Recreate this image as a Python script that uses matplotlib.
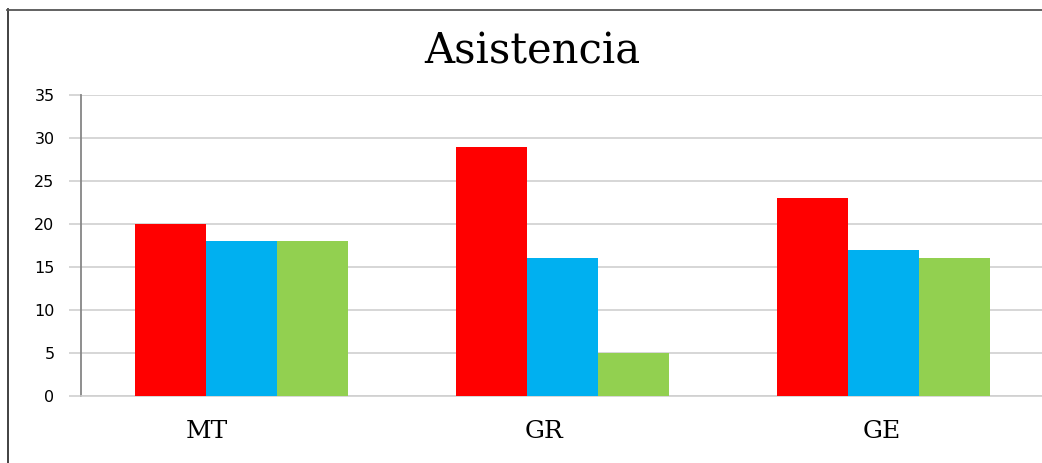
import matplotlib
matplotlib.use("Agg")
import matplotlib.pyplot as plt
import matplotlib.transforms as mtransforms
from matplotlib.lines import Line2D
import numpy as np

categories = ["MT", "GR", "GE"]
serie_rojo = [20, 29, 23]
serie_azul = [18, 16, 17]
serie_verde = [18, 5, 16]
y_ticks = [0, 5, 10, 15, 20, 25, 30, 35]

colores = ["#FF0000", "#00B0F0", "#92D050"]

W, H = 1042, 463
fig = plt.figure(figsize=(W / 100, H / 100), dpi=100)
ax = fig.add_axes([81 / W, 1 - 396 / H, (1044 - 81) / W, (396 - 95) / H])

x = np.arange(len(categories))
bw = 0.222
for i, (vals, c) in enumerate(zip([serie_rojo, serie_azul, serie_verde], colores)):
    ax.bar(x + (i - 1) * bw, vals, width=bw, color=c, zorder=3)

ax.set_xlim(-0.5, len(categories) - 0.5)
ax.set_ylim(0, 35)
ax.set_yticks(y_ticks)
ax.set_yticklabels([str(v) for v in y_ticks], fontsize=11.5, family="DejaVu Sans")
ax.tick_params(axis="y", length=9, color="#D0D0D0", width=1.2, pad=10)
ax.set_xticks(x)
ax.set_xticklabels(categories, fontsize=18, family="DejaVu Serif")
ax.tick_params(axis="x", length=0, pad=17)

# category labels sit slightly left of their group centres
label_shift_px = [-35, -19, -2]
for lbl, dx in zip(ax.get_xticklabels(), label_shift_px):
    off = mtransforms.ScaledTranslation(dx / 100, 0, fig.dpi_scale_trans)
    lbl.set_transform(lbl.get_transform() + off)

ax.yaxis.grid(True, color="#D0D0D0", linewidth=1.2, zorder=0)
ax.set_axisbelow(True)
for s in ["top", "right"]:
    ax.spines[s].set_visible(False)
ax.spines["bottom"].set_color("#D0D0D0")
ax.spines["bottom"].set_linewidth(1.2)
ax.spines["left"].set_color("#868686")
ax.spines["left"].set_linewidth(1.3)

fig.text(532 / W, 1 - 63 / H, "Asistencia", ha="center", va="baseline",
         fontsize=30, family="DejaVu Serif")

# outer frame (left and top edges)
fig.add_artist(Line2D([7.5 / W, 7.5 / W], [0, 1 - 9 / H], color="#333333", lw=1.3))
fig.add_artist(Line2D([7 / W, 1], [1 - 9.5 / H, 1 - 9.5 / H], color="#555555", lw=1.3))

fig.savefig("out.png", dpi=100)
